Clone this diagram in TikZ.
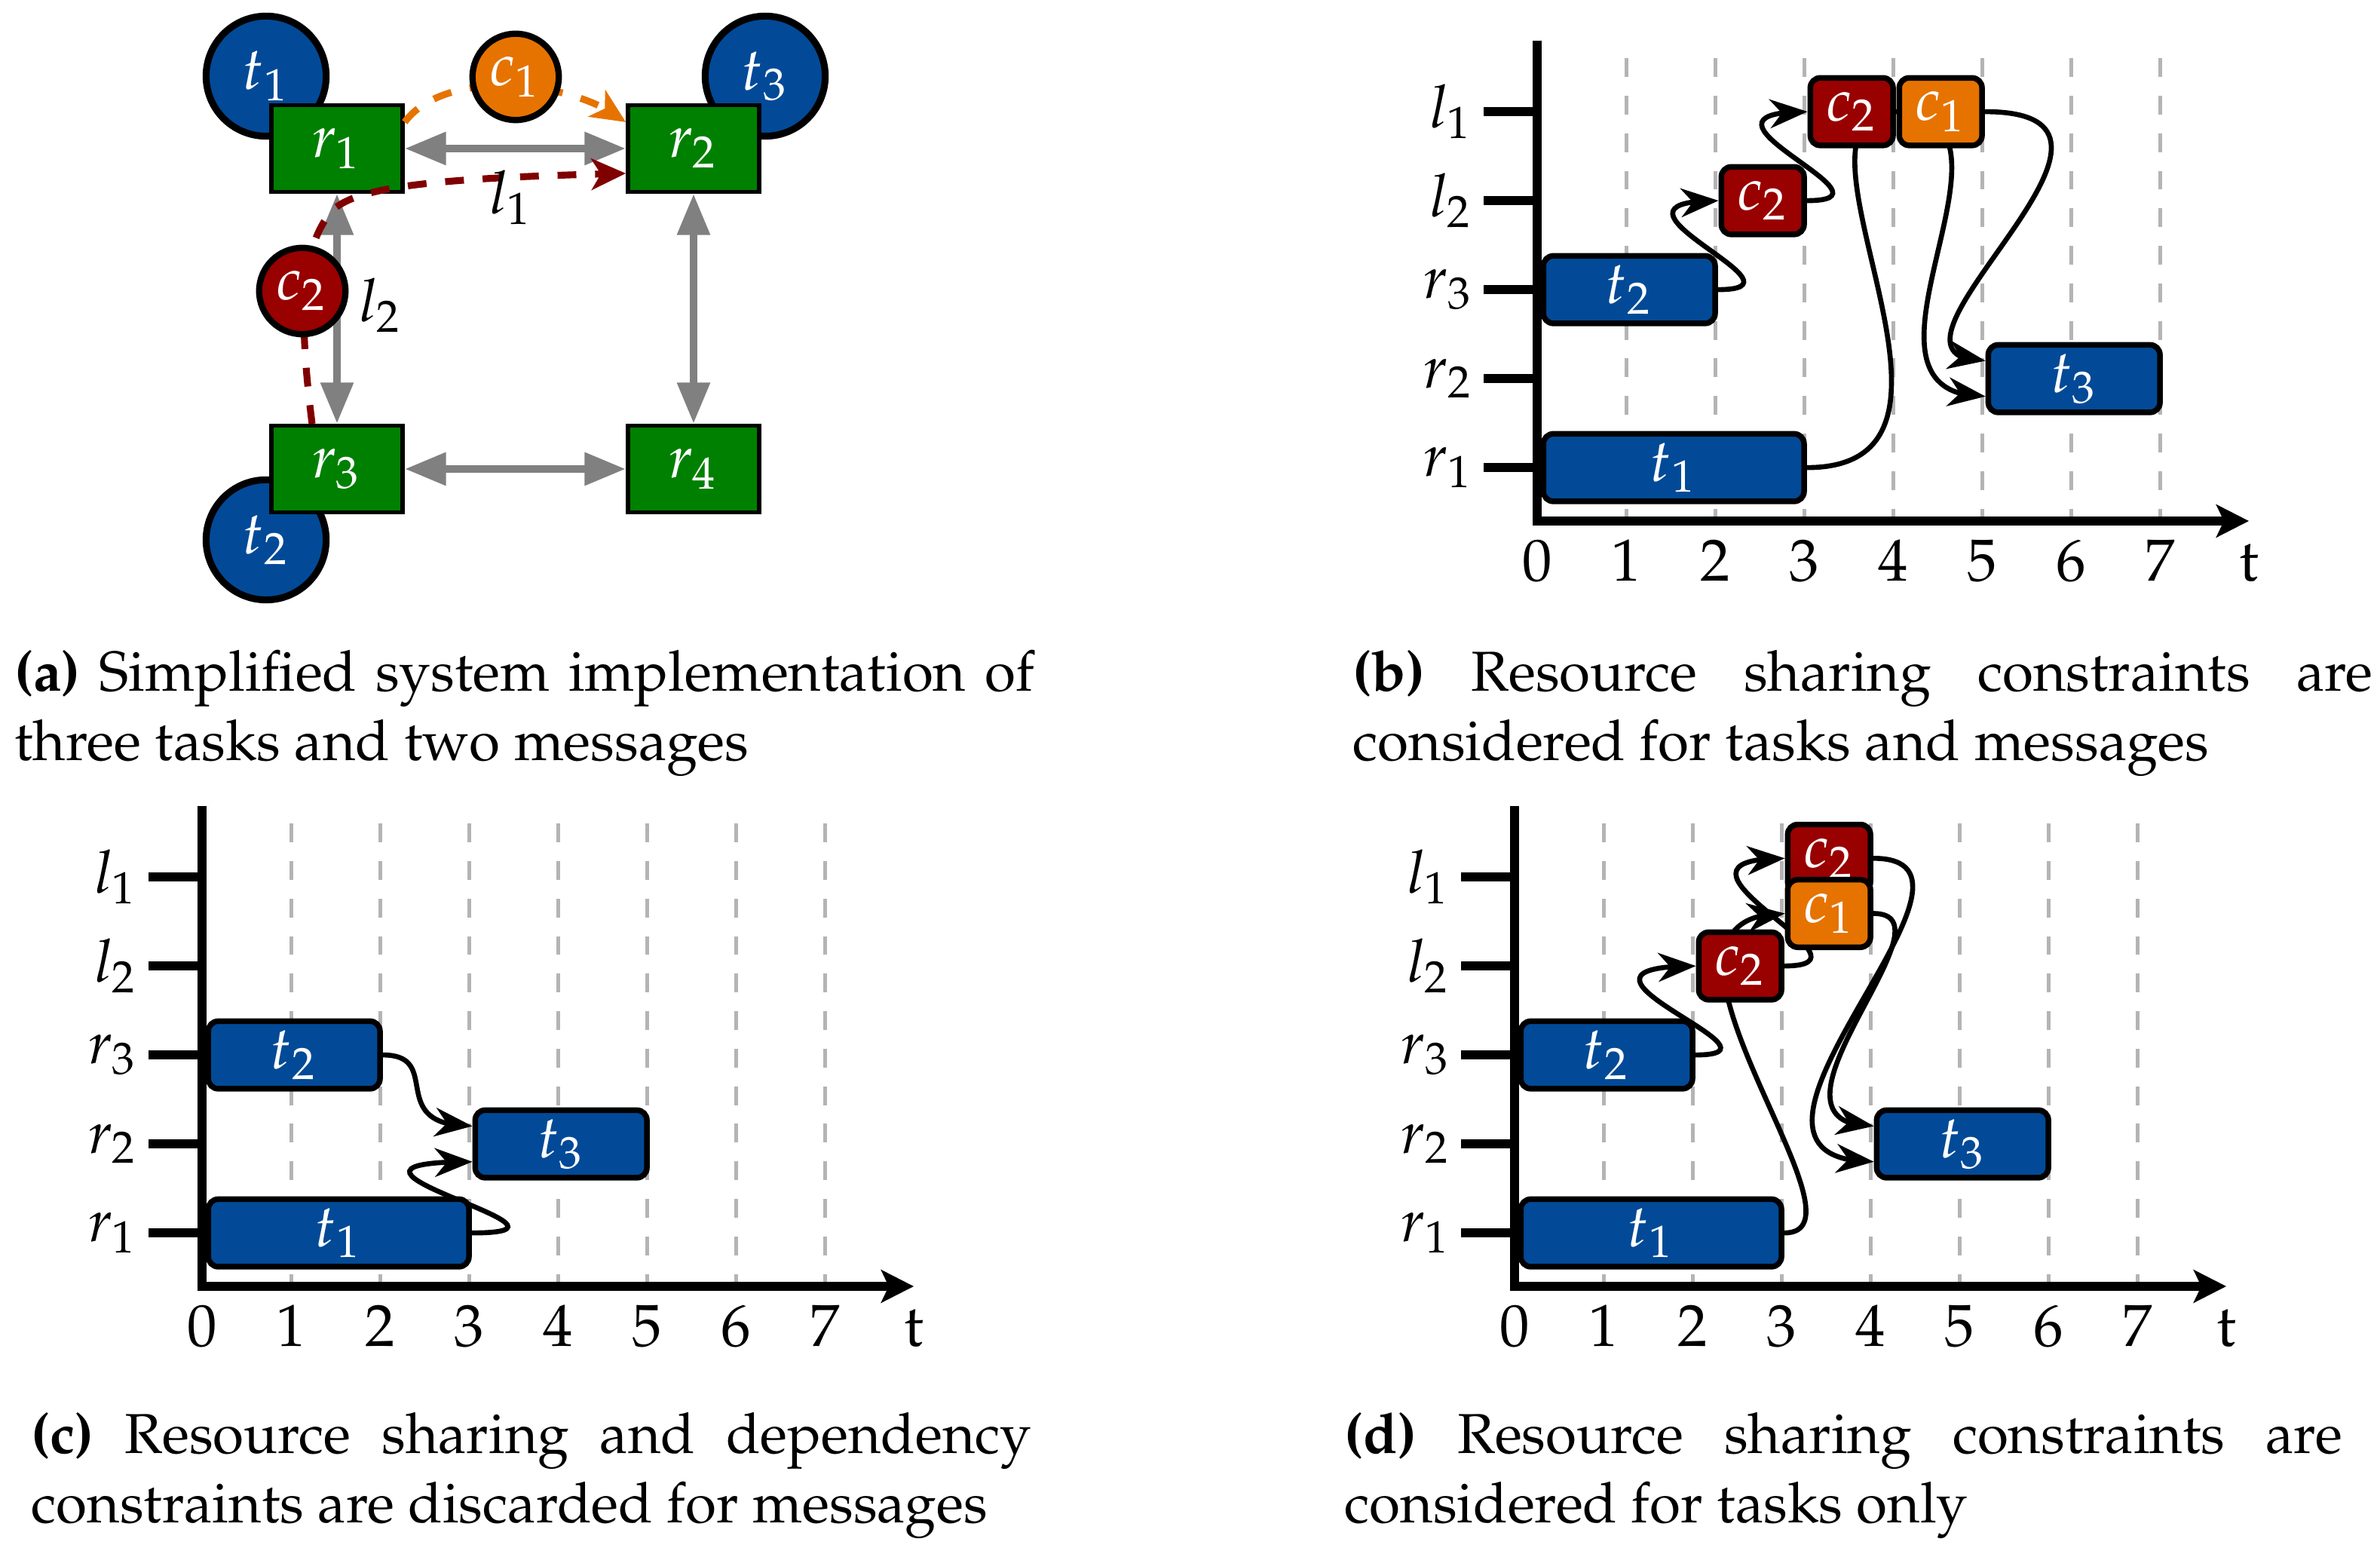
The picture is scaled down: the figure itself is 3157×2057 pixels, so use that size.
\documentclass[tikz,border=0pt]{standalone}
\usepackage[T1]{fontenc}
\usepackage{mathpazo}
\usetikzlibrary{arrows.meta,bending,calc}
\pgfdeclarelayer{gridl}
\pgfdeclarelayer{arrl}
\pgfsetlayers{gridl,arrl,main}
\definecolor{taskblue}{RGB}{2,74,151}
\definecolor{resgreen}{RGB}{0,128,0}
\definecolor{msgred}{RGB}{153,0,0}
\definecolor{msgorange}{RGB}{230,115,0}
\definecolor{linkred}{RGB}{128,0,0}
\definecolor{gridgray}{RGB}{180,180,180}
\definecolor{linkgray}{RGB}{128,128,128}
\tikzset{
  dfont/.style={font=\fontsize{9.5}{11}\selectfont},
  cbox/.style={draw=black, line width=0.9pt, rounded corners=1.6pt, text=white, inner sep=0pt, dfont},
  resbox/.style={draw=black, line width=0.65pt, fill=resgreen, text=white, minimum width=21pt, minimum height=13.8pt, inner sep=0pt, dfont},
  taskc/.style={circle, draw=black, line width=1.1pt, fill=taskblue, text=white, minimum size=19.2pt, inner sep=0pt, dfont},
  msgc/.style={circle, draw=black, line width=1pt, text=white, minimum size=13.8pt, inner sep=0pt, dfont},
  linkarrow/.style={draw=linkgray, line width=1.3pt, {Triangle[length=6.6pt,width=5pt]}-{Triangle[length=6.6pt,width=5pt]}},
  msgpath/.style={dashed, line width=1.1pt, -{Stealth[length=5.5pt,width=5pt,inset=1.5pt]}},
  dep/.style={line width=0.8pt, -{Stealth[length=6pt,width=4.6pt,inset=1.9pt]}},
  axisline/.style={line width=1.4pt, -{Stealth[length=5.2pt,width=5.2pt,inset=1.2pt]}},
  tickline/.style={line width=1.4pt},
  gridline/.style={draw=gridgray, line width=0.6pt, dashed},
  rowlabel/.style={anchor=east, inner sep=1.5pt, dfont},
  numlabel/.style={anchor=base, inner sep=0pt, dfont},
  plainlabel/.style={inner sep=0pt, dfont},
  capnode/.style={anchor=base west, inner sep=0pt, font=\fontsize{9}{11}\selectfont},
}
% chart axes: #1 = name prefix
\newcommand\mkchart[1]{%
  \begin{pgfonlayer}{gridl}
    \foreach \i in {1,...,7} \draw[gridline] (\i,5.2) -- (\i,0);
  \end{pgfonlayer}
  \draw[axisline] (0,5.4) -- (0,0) -- (8,0);
  \foreach \lab/\yy/\nm in {l_1/4.6/la, l_2/3.6/lb, r_3/2.6/rc, r_2/1.6/rb, r_1/0.6/ra} {
    \draw[tickline] (-0.6,\yy) -- (0,\yy);
    \node[rowlabel] (#1\nm) at (-0.6,\yy) {$\lab$};
  }
  \foreach \i in {0,...,7} \node[numlabel] (#1n\i) at (\i,-0.67) {\i};
  \node[numlabel] (#1tt) at (8,-0.67) {t};
}
% chart box: #1 name, #2 x0, #3 x1, #4 y, #5 fill, #6 label
\newcommand\chartbox[6]{%
  \node[cbox, fill=#5, minimum width={(#3-#2-0.07)*14.226pt}, minimum height=10.8pt] (#1) at ({(#2+0.07+#3)/2},#4) {$#6$};
}
\begin{document}
\begin{tikzpicture}[x=0.12055pt,y=-0.12055pt]
\useasboundingbox (0,0) rectangle (3157,2057);

% ---------------- panel (a) ----------------
\node[taskc] (at1) at (353,101) {$t_1$};
\node[taskc] (at3) at (1015,101) {$t_3$};
\node[taskc] (at2) at (353,716) {$t_2$};
\node[resbox] (ar1) at (447,197) {$r_1$};
\node[resbox] (ar2) at (920,197) {$r_2$};
\node[resbox] (ar3) at (447,622) {$r_3$};
\node[resbox] (ar4) at (920,622) {$r_4$};
\draw[linkarrow] (ar1.east) -- (ar2.west);
\draw[linkarrow] (ar3.east) -- (ar4.west);
\draw[linkarrow] (ar1.south) -- (ar3.north);
\draw[linkarrow] (ar2.south) -- (ar4.north);
\draw[msgpath, msgorange] ($(ar1.east)+(0,-35)$) .. controls (590,90) and (760,105) .. ($(ar2.west)+(0,-35)$);
\draw[msgpath, linkred] ($(ar3.north)+(-33,0)$) .. controls (396,420) and (398,330) .. (440,280)
   .. controls (470,250) and (560,236) .. ($(ar2.west)+(0,33)$);
\node[msgc, fill=msgorange] (ac1) at (684,102) {$c_1$};
\node[msgc, fill=msgred] (ac2) at (401,386) {$c_2$};
\node[plainlabel] (al1) at (678,262) {$l_1$};
\node[plainlabel] (al2) at (505,405) {$l_2$};

% ---------------- panel (b) ----------------
\begin{scope}[shift={(2039,691)}, x=0.5cm, y=0.5cm]
  \mkchart{b}
  \chartbox{bt1}{0}{3}{0.6}{taskblue}{t_1}
  \chartbox{bt2}{0}{2}{2.6}{taskblue}{t_2}
  \chartbox{bt3}{5}{7}{1.6}{taskblue}{t_3}
  \chartbox{bc2a}{2}{3}{3.6}{msgred}{c_2}
  \chartbox{bc2b}{3}{4}{4.6}{msgred}{c_2}
  \chartbox{bc1}{4}{5}{4.6}{msgorange}{c_1}
  \begin{pgfonlayer}{arrl}
    \draw[dep] (bt2.east) .. controls +(1.15,0) and +(-1.6,0) .. (bc2a.west);
    \draw[dep] (bc2a.east) .. controls +(1.15,0) and +(-1.6,0) .. (bc2b.west);
    \draw[dep] (bt1.east) .. controls +(2.3,0) and +(-1.5,0) .. (bc1.west);
    \draw[dep] (bc2b.east) .. controls +(1.7,0) and +(-1.8,0) .. ($(bt3.west)+(0,-0.2)$);
    \draw[dep] (bc1.east) .. controls +(2.3,0) and +(-1.6,0) .. ($(bt3.west)+(0,0.2)$);
  \end{pgfonlayer}
\end{scope}

% ---------------- panel (c) ----------------
\begin{scope}[shift={(268,1706)}, x=0.5cm, y=0.5cm]
  \mkchart{c}
  \chartbox{ct1}{0}{3}{0.6}{taskblue}{t_1}
  \chartbox{ct2}{0}{2}{2.6}{taskblue}{t_2}
  \chartbox{ct3}{3}{5}{1.6}{taskblue}{t_3}
  \begin{pgfonlayer}{arrl}
    \draw[dep] (ct2.east) .. controls +(0.7,0) and +(-1.0,0) .. ($(ct3.west)+(0,0.2)$);
    \draw[dep] (ct1.east) .. controls +(1.6,0) and +(-2.2,0) .. ($(ct3.west)+(0,-0.2)$);
  \end{pgfonlayer}
\end{scope}

% ---------------- panel (d) ----------------
\begin{scope}[shift={(2009,1706)}, x=0.5cm, y=0.5cm]
  \mkchart{d}
  \chartbox{dt1}{0}{3}{0.6}{taskblue}{t_1}
  \chartbox{dt2}{0}{2}{2.6}{taskblue}{t_2}
  \chartbox{dt3}{4}{6}{1.6}{taskblue}{t_3}
  \chartbox{dc2a}{2}{3}{3.6}{msgred}{c_2}
  \chartbox{dc2b}{3}{4}{4.81}{msgred}{c_2}
  \chartbox{dc1}{3}{4}{4.19}{msgorange}{c_1}
  \begin{pgfonlayer}{arrl}
    \draw[dep] (dt2.east) .. controls +(1.2,0) and +(-1.9,0) .. (dc2a.west);
    \draw[dep] (dc2a.east) .. controls +(1.2,0) and +(-1.7,0) .. (dc2b.west);
    \draw[dep] (dt1.east) .. controls +(1.1,0) and +(-2.0,0) .. (dc1.west);
    \draw[dep] (dc2b.east) .. controls +(1.7,0) and +(-2.2,0) .. ($(dt3.west)+(0,-0.2)$);
    \draw[dep] (dc1.east) .. controls +(1.0,0) and +(-1.5,0) .. ($(dt3.west)+(0,0.2)$);
  \end{pgfonlayer}
\end{scope}

% ---------------- captions ----------------
\node[capnode] (capa) at (18,917) {\parbox[t]{163pt}{\textbf{(a)} Simplified system implementation of\linebreak three tasks and two messages}};
\node[capnode] (capb) at (1793,917) {\parbox[t]{163.1pt}{\textbf{(b)} Resource sharing constraints are\linebreak considered for tasks and messages}};
\node[capnode] (capc) at (40,1928) {\parbox[t]{159.9pt}{\textbf{(c)} Resource sharing and dependency\linebreak constraints are discarded for messages}};
\node[capnode] (capd) at (1782,1928) {\parbox[t]{159.5pt}{\textbf{(d)} Resource sharing constraints are\linebreak considered for tasks only}};
\end{tikzpicture}
\end{document}
